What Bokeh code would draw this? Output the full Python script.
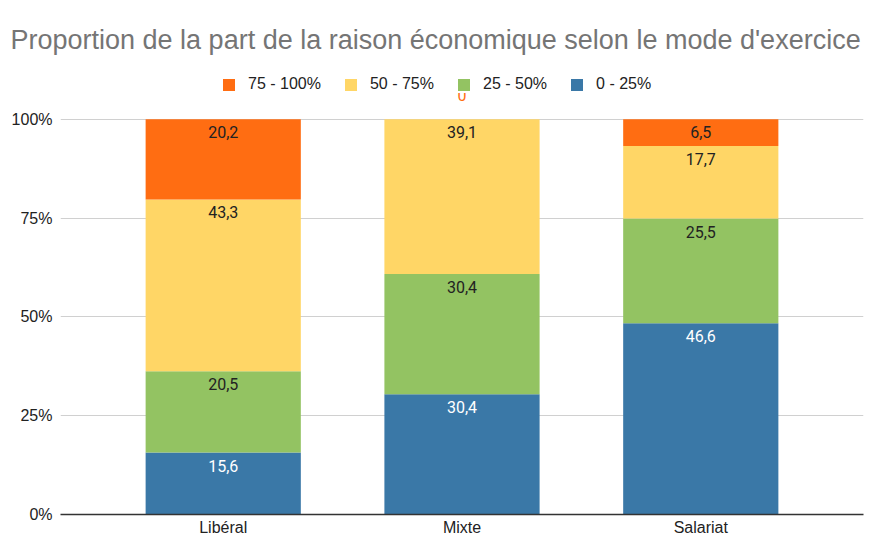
from bokeh.plotting import figure
from bokeh.models import (ColumnDataSource, FactorRange, Range1d, FixedTicker,
                          NumeralTickFormatter, Legend, LegendItem)
from bokeh.core.properties import value
from bokeh.embed import file_html
from bokeh.resources import INLINE

categories = ["Libéral", "Mixte", "Salariat"]
series_labels = ["0 - 25%", "25 - 50%", "50 - 75%", "75 - 100%"]
values_0_25 = [15.6, 30.4, 46.6]
values_25_50 = [20.5, 30.4, 25.5]
values_50_75 = [43.3, 39.1, 17.7]
values_75_100 = [20.2, 0.0, 6.5]
y_ticks = [0, 0.25, 0.5, 0.75, 1.0]

colors = ["#3a78a7", "#93c362", "#ffd666", "#ff6d12"]
label_colors = ["#ffffff", "#222222", "#222222", "#222222"]

series_values = [values_0_25, values_25_50, values_50_75, values_75_100]
totals = [sum(v[i] for v in series_values) for i in range(len(categories))]

p = figure(width=870, height=538,
           x_range=FactorRange(*categories, range_padding=0.121),
           y_range=Range1d(0, 1.1537),
           output_backend="svg", toolbar_location=None,
           min_border_left=60, min_border_right=7, min_border_top=58,
           min_border_bottom=22)

p.title.text = "Proportion de la part de la raison économique selon le mode d'exercice"
p.title.text_font = "Liberation Sans"
p.title.text_font_size = "27px"
p.title.text_font_style = "normal"
p.title.text_color = "#757575"
p.title.align = "left"
p.title.offset = -50
p.title.standoff = 8

renderers = []
cum = [0.0] * len(categories)
for i, vals in enumerate(series_values):
    bottom = [cum[j] for j in range(len(categories))]
    top = [cum[j] + vals[j] / totals[j] for j in range(len(categories))]
    cum = top
    labels = [("%.1f" % v).replace(".", ",") if v != 0 else "0" for v in vals]
    src = ColumnDataSource(dict(x=categories, bottom=bottom, top=top, label=labels))
    r = p.vbar(x="x", bottom="bottom", top="top", width=0.65, source=src,
               fill_color=colors[i], line_color=None)
    renderers.append(r)
    nz = [j for j in range(len(categories)) if vals[j] != 0]
    z = [j for j in range(len(categories)) if vals[j] == 0]
    if nz:
        s1 = ColumnDataSource(dict(x=[categories[j] for j in nz],
                                   y=[top[j] for j in nz],
                                   label=[labels[j] for j in nz]))
        p.text(x="x", y="y", text="label", source=s1, text_align="center",
               text_baseline="top", y_offset=7, text_font=value("Roboto"),
               text_font_size="16px", text_color=label_colors[i])
    if z:
        s2 = ColumnDataSource(dict(x=[categories[j] for j in z],
                                   y=[top[j] for j in z],
                                   label=[labels[j] for j in z]))
        p.text(x="x", y="y", text="label", source=s2, text_align="center",
               text_baseline="alphabetic", y_offset=-24, text_font=value("Roboto"),
               text_font_size="16px", text_color=colors[i])

legend = Legend(items=[LegendItem(label=series_labels[i], renderers=[renderers[i]])
                       for i in [3, 2, 1, 0]],
                orientation="horizontal", location=(161, 421),
                glyph_width=15, glyph_height=15, label_standoff=12, spacing=22,
                padding=0, margin=0, border_line_color=None,
                background_fill_color="white", background_fill_alpha=1.0,
                label_text_font="Liberation Sans", label_text_font_size="16px",
                label_text_color="#222222", label_height=15)
p.add_layout(legend)

p.yaxis.ticker = FixedTicker(ticks=y_ticks)
p.yaxis.formatter = NumeralTickFormatter(format="0%")
p.yaxis.axis_line_color = None
p.yaxis.major_tick_line_color = None
p.yaxis.minor_tick_line_color = None
p.yaxis.major_tick_out = 0
p.yaxis.major_label_standoff = 8
p.yaxis.major_label_text_font = "Liberation Sans"
p.yaxis.major_label_text_font_size = "16px"
p.yaxis.major_label_text_color = "#222222"

p.xaxis.axis_line_color = "#333333"
p.xaxis.axis_line_width = 1.5
p.xaxis.major_tick_line_color = None
p.xaxis.minor_tick_line_color = None
p.xaxis.major_tick_out = 0
p.xaxis.major_label_standoff = 4
p.xaxis.major_label_text_font = "Liberation Sans"
p.xaxis.major_label_text_font_size = "16px"
p.xaxis.major_label_text_color = "#222222"

p.xgrid.grid_line_color = None
p.ygrid.ticker = FixedTicker(ticks=y_ticks)
p.ygrid.grid_line_color = "#d0d0d0"
p.outline_line_color = None

open("out.html", "w").write(file_html(p, INLINE))
